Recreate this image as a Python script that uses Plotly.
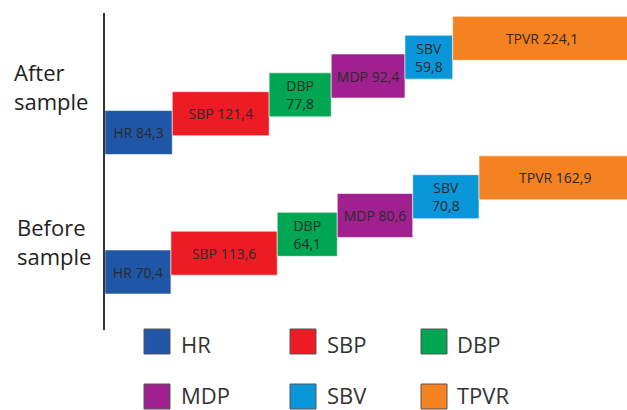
import plotly.graph_objects as go

# ---- data ----
categories = ["Before sample", "After sample"]
series = ["HR", "SBP", "DBP", "MDP", "SBV", "TPVR"]
before_values = [70.4, 113.6, 64.1, 80.6, 70.8, 162.9]
after_values = [84.3, 121.4, 77.8, 92.4, 59.8, 224.1]
two_line_labels = ["DBP", "SBV"]

colors = ["#1F56A6", "#ED1C24", "#00A651", "#A0208F", "#0A97DA", "#F58220"]

# ---- layout geometry (pixels) ----
W, H = 627, 410
L, R, T, B = 105, 627, 13, 330


def px_x(px):
    return (px - L) / (R - L)


def px_y(py):
    return (B - py) / (B - T)


step = 0.135      # vertical offset between consecutive series
bar_h = 0.315     # bar thickness in category units

values_by_cat = [before_values, after_values]
totals = [sum(v) for v in values_by_cat]
pcts = [[v / t * 100 for v in vals] for vals, t in zip(values_by_cat, totals)]
bases = []
for row in pcts:
    acc, b = 0.0, []
    for v in row:
        b.append(acc)
        acc += v
    bases.append(b)


def fmt(name, val):
    s = f"{val:.1f}".replace(".", ",")
    sep = "<br>" if name in two_line_labels else " "
    return f"{name}{sep}{s}"


fig = go.Figure()
for i, name in enumerate(series):
    fig.add_trace(go.Bar(
        name=name,
        orientation="h",
        y=[c + i * step for c in range(len(categories))],
        x=[pcts[c][i] for c in range(len(categories))],
        base=[bases[c][i] for c in range(len(categories))],
        width=bar_h,
        marker=dict(color=colors[i], line=dict(color="rgba(255,255,255,0.55)", width=1)),
        text=[fmt(name, values_by_cat[c][i]) for c in range(len(categories))],
        textposition="inside",
        insidetextanchor="middle",
        textangle=0,
        constraintext="none",
        textfont=dict(family="Open Sans", size=14, color="#2a2a2a"),
        hoverinfo="skip",
        showlegend=False,
    ))

# category labels (left aligned, two lines)
cat_label_px = {"After sample": 86.5, "Before sample": 241}
cat_label_x = {"After sample": 12, "Before sample": 15}
annotations = []
for cat in categories:
    first, second = cat.split(" ")
    annotations.append(dict(
        xref="paper", yref="paper",
        x=px_x(cat_label_x[cat]), y=px_y(cat_label_px[cat]),
        xanchor="left", yanchor="middle", align="left",
        text=f"{first}<br>{second}", showarrow=False,
        font=dict(family="Open Sans", size=22, color="#222222"),
    ))

# custom legend
shapes = []
col_sq = [144, 290, 421]
col_tx = [180, 326, 456]
row_top = [329, 384]
row_txt = [343.5, 394.5]
for i, name in enumerate(series):
    r, c = divmod(i, 3)
    x0, y0 = col_sq[c], row_top[r]
    shapes.append(dict(
        type="rect", xref="paper", yref="paper",
        x0=px_x(x0), x1=px_x(x0 + 26), y0=px_y(y0 + 25), y1=px_y(y0),
        fillcolor=colors[i], line=dict(color="#555555", width=1),
    ))
    annotations.append(dict(
        xref="paper", yref="paper",
        x=px_x(col_tx[c]), y=px_y(row_txt[r]),
        xanchor="left", yanchor="middle", borderpad=0,
        text=name, showarrow=False,
        font=dict(family="Open Sans", size=22, color="#333333"),
    ))

y_bottom = (272 - B) / 139.5
y_top = (272 - T) / 139.5

fig.update_layout(
    width=W, height=H,
    margin=dict(l=L, r=W - R, t=T, b=H - B, pad=0),
    paper_bgcolor="white", plot_bgcolor="white",
    barmode="overlay",
    showlegend=False,
    xaxis=dict(range=[0, 100 * (R - L) / 526.5], visible=False, fixedrange=True),
    yaxis=dict(range=[y_bottom, y_top], showticklabels=False, ticks="",
               showgrid=False, zeroline=False, showline=True,
               linecolor="#333333", linewidth=1.5, fixedrange=True),
    annotations=annotations,
    shapes=shapes,
    font=dict(family="Open Sans"),
)

fig.write_html(
    "out.html",
    config={"displayModeBar": False},
    post_script="document.body.style.margin='0';document.body.style.overflow='hidden';",
)
